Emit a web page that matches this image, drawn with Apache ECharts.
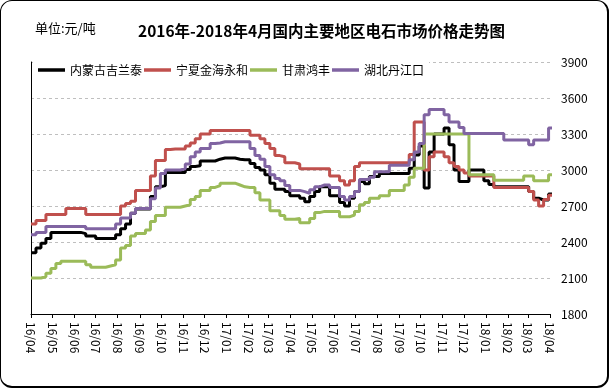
<!DOCTYPE html>
<html><head><meta charset="utf-8">
<script src="https://cdn.jsdelivr.net/npm/echarts@6/dist/echarts.min.js"></script>
<style>
html,body{margin:0;padding:0;background:#fff;}
#wrap{position:relative;width:609px;height:388px;overflow:hidden;}
#chart{position:absolute;left:0;top:0;width:609px;height:388px;}
#frame{position:absolute;left:0;top:0;width:609px;height:388px;box-sizing:border-box;border:1px solid #000;border-right-width:2px;border-bottom-width:2px;border-radius:12px;pointer-events:none;}
</style></head><body>
<div id="wrap"><div id="chart"></div><div id="frame"></div></div>
<script>
// Weekly prices (元/吨), first week 2016-04-01
const seriesNames = ['内蒙古吉兰泰', '宁夏金海永和', '甘肃鸿丰', '湖北丹江口'];
const neimenggu = [
2310,2350,2390,2430,2480,2480,2480,2480,2480,2480,
2470,2450,2450,2430,2430,2430,2430,2460,2510,2550,
2640,2675,2675,2675,2780,2860,2870,2980,2980,2980,
2980,3005,3030,3035,3075,3075,3075,3090,3100,3100,
3100,3090,3085,3085,3055,3020,3000,2960,2890,2840,
2840,2820,2785,2785,2765,2735,2780,2820,2860,2860,
2785,2785,2730,2700,2765,2820,2905,2885,2945,2945,
2970,2970,2970,2970,2970,2970,3015,3125,3200,2850,
3150,3300,3300,3350,3210,3000,2905,2905,3000,3000,
3000,2910,2880,2860,2860,2860,2860,2860,2860,2860,
2820,2765,2750,2750,2800,2800];
const ningxia = [
2550,2580,2580,2630,2630,2630,2630,2680,2680,2680,
2680,2630,2630,2630,2630,2630,2630,2630,2700,2720,
2740,2830,2830,2830,2950,3080,3080,3170,3175,3175,
3175,3200,3225,3260,3300,3300,3330,3330,3330,3330,
3330,3330,3330,3330,3290,3290,3260,3220,3180,3120,
3110,3060,3060,3050,3010,3010,3010,3010,3010,3010,
2950,2950,2910,2875,2910,3030,3060,3060,3060,3060,
3060,3060,3060,3060,3060,3060,3130,3400,3400,3000,
3110,3150,3150,3110,3060,3030,3000,2975,2950,2950,
2950,2950,2950,2855,2855,2855,2855,2855,2855,2855,
2820,2750,2700,2755,2790,2790];
const gansu = [
2100,2100,2110,2140,2180,2220,2240,2240,2240,2240,
2240,2210,2190,2190,2190,2200,2210,2250,2350,2370,
2450,2470,2470,2500,2570,2620,2620,2690,2690,2690,
2700,2710,2755,2780,2830,2830,2855,2870,2890,2890,
2890,2875,2860,2855,2855,2810,2750,2750,2660,2660,
2620,2590,2590,2595,2560,2560,2595,2645,2655,2655,
2655,2655,2610,2610,2625,2655,2710,2730,2765,2765,
2785,2785,2830,2830,2830,2875,2940,3015,3015,3300,
3300,3300,3300,3300,3300,3300,3300,3300,2960,2960,
2960,2960,2960,2915,2915,2915,2915,2915,2915,2950,
2950,2910,2910,2910,2960,2960];
const hubei = [
2460,2480,2480,2530,2530,2530,2530,2530,2530,2530,
2530,2510,2510,2510,2510,2510,2510,2550,2600,2600,
2640,2680,2680,2680,2760,2850,2970,3000,3000,3000,
3010,3050,3110,3150,3180,3180,3220,3225,3235,3235,
3235,3235,3235,3235,3180,3120,3090,3030,2960,2930,
2910,2870,2830,2830,2820,2805,2835,2860,2875,2875,
2855,2855,2780,2750,2780,2820,2920,2920,2940,2985,
2985,2985,3040,3040,3040,3040,3085,3150,3220,3460,
3505,3505,3505,3460,3400,3400,3355,3305,3305,3305,
3305,3305,3305,3305,3305,3250,3250,3250,3250,3250,
3210,3250,3250,3250,3350,3350];
const yTicks = {min: 1800, max: 3900, interval: 300};
const colors = ['#000000', '#c0504d', '#9bbb59', '#8064a2'];

// weekly dates
const weekDates = neimenggu.map((_, k) => new Date(2016, 3, 1 + 7 * k).getTime());
const allSeries = [neimenggu, ningxia, gansu, hubei];

const chart = echarts.init(document.getElementById('chart'), null, {renderer: 'canvas'});
const FONT = '"Noto Sans CJK SC", "Liberation Sans", sans-serif';
const DAY = 86400000;
chart.setOption({
  animation: false,
  textStyle: {fontFamily: FONT},
  title: [
    {text: '2016年-2018年4月国内主要地区电石市场价格走势图', left: 133, top: 18,
     textStyle: {fontSize: 15.5, fontWeight: 'bold', color: '#000', fontFamily: FONT}},
    {text: '单位:元/吨', left: 30, top: 17,
     textStyle: {fontSize: 13, fontWeight: 'normal', color: '#000', fontFamily: FONT}}
  ],
  legend: {
    left: 33, top: 59, padding: 5, itemGap: 2, itemWidth: 27, itemHeight: 3.5,
    icon: 'rect',
    backgroundColor: '#fff',
    textStyle: {fontSize: 12, color: '#000', fontFamily: FONT},
    data: seriesNames
  },
  grid: {left: 31, right: 59, top: 62, bottom: 74},
  xAxis: {
    type: 'time',
    min: new Date(2016, 3, 1).getTime(),
    max: new Date(2018, 3, 1).getTime(),
    minInterval: 31 * DAY, maxInterval: 31 * DAY,
    axisLine: {show: true, lineStyle: {color: '#000', width: 1}},
    axisTick: {show: true, length: 4, lineStyle: {color: '#000'}},
    axisLabel: {
      rotate: -90, fontSize: 12, color: '#000', margin: 8,
      showMinLabel: true, showMaxLabel: true,
      formatter: function (v) {
        const d = new Date(v);
        return String(d.getFullYear()).slice(2) + '/' + String(d.getMonth() + 1).padStart(2, '0');
      }
    },
    splitLine: {show: false}
  },
  yAxis: [
    {
      type: 'value', position: 'right', min: yTicks.min, max: yTicks.max, interval: yTicks.interval,
      axisLine: {show: false}, axisTick: {show: false},
      axisLabel: {fontSize: 12, color: '#000', margin: 11, formatter: v => String(v)},
      splitLine: {show: true, lineStyle: {color: '#bfbfbf', type: [3, 3], width: 1}}
    },
    {
      type: 'value', position: 'left', min: yTicks.min, max: yTicks.max, interval: yTicks.interval,
      axisLine: {show: true, lineStyle: {color: '#000', width: 1}},
      axisTick: {show: false}, axisLabel: {show: false}, splitLine: {show: false}
    }
  ],
  series: allSeries.map((arr, i) => ({
    name: seriesNames[i],
    type: 'line',
    step: 'end',
    yAxisIndex: 0,
    symbol: 'none',
    color: colors[i],
    lineStyle: {width: 3, color: colors[i]},
    data: weekDates.map((d, k) => [d, arr[k]])
  }))
});
</script></body></html>
